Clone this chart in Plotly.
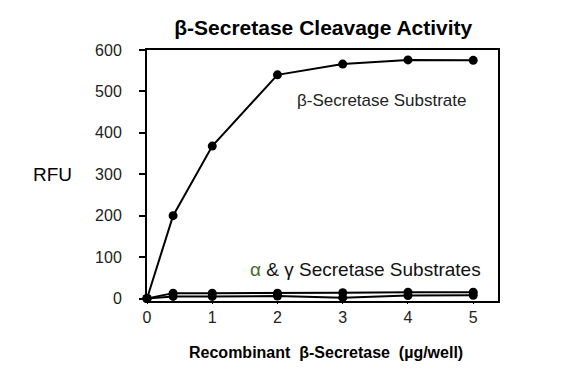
import plotly.graph_objects as go

dose = [0, 0.4, 1, 2, 3, 4, 5]
beta_rfu = [0, 200, 368, 540, 566, 576, 575]
alpha_rfu = [0, 13, 13, 13, 14, 15, 15]
gamma_rfu = [0, 5, 5, 6, 2, 7, 8]

x_ticks = [0, 1, 2, 3, 4, 5]
y_ticks = [0, 100, 200, 300, 400, 500, 600]

fig = go.Figure()
for ys in (gamma_rfu, alpha_rfu, beta_rfu):
    fig.add_trace(go.Scatter(
        x=dose, y=ys, mode="lines+markers",
        line=dict(color="black", width=2),
        marker=dict(color="black", size=9),
        showlegend=False, cliponaxis=False,
    ))

font = "Arial, Liberation Sans, sans-serif"
fig.update_layout(
    width=567, height=384,
    margin=dict(l=139, r=77, t=42, b=91),
    paper_bgcolor="white", plot_bgcolor="white",
    font=dict(family=font, color="black", size=16),
    title=dict(text="<b>β-Secretase Cleavage Activity</b>", x=0.556, xanchor="center",
               y=0.948, yanchor="middle", font=dict(size=21, family=font)),
    xaxis=dict(range=[0, 5.38], tickvals=x_ticks, showgrid=False, zeroline=False,
               showline=True, linecolor="black", linewidth=2, mirror=True,
               ticks="outside", ticklen=1, tickwidth=1, tickcolor="black",
               tickfont=dict(size=16, color="#222")),
    yaxis=dict(range=[-6, 600], tickvals=y_ticks, showgrid=False, zeroline=False,
               showline=True, linecolor="black", linewidth=2, mirror=True,
               ticks="outside", ticklen=6, tickwidth=2, tickcolor="black",
               ticklabelstandoff=14,
               tickfont=dict(size=16, color="#222")),
    annotations=[
        dict(text="RFU", xref="paper", yref="paper", x=-0.27, y=0.502,
             showarrow=False, font=dict(size=19), xanchor="center", yanchor="middle"),
        dict(text="<b>Recombinant  β-Secretase  (µg/well)</b>", xref="paper", yref="paper",
             x=0.51, y=-0.207, showarrow=False, font=dict(size=16),
             xanchor="center", yanchor="middle"),
        dict(text="β-Secretase Substrate", xref="x", yref="y", x=2.27, y=479,
             xanchor="left", yanchor="middle", showarrow=False,
             font=dict(size=17, color="#222")),
        dict(text="<span style='color:#4a6b2a'>α</span> & γ Secretase Substrates",
             xref="x", yref="y", x=1.55, y=70, xanchor="left", yanchor="middle",
             showarrow=False, font=dict(size=19, color="#111")),
    ],
)

fig.write_html("out.html")
